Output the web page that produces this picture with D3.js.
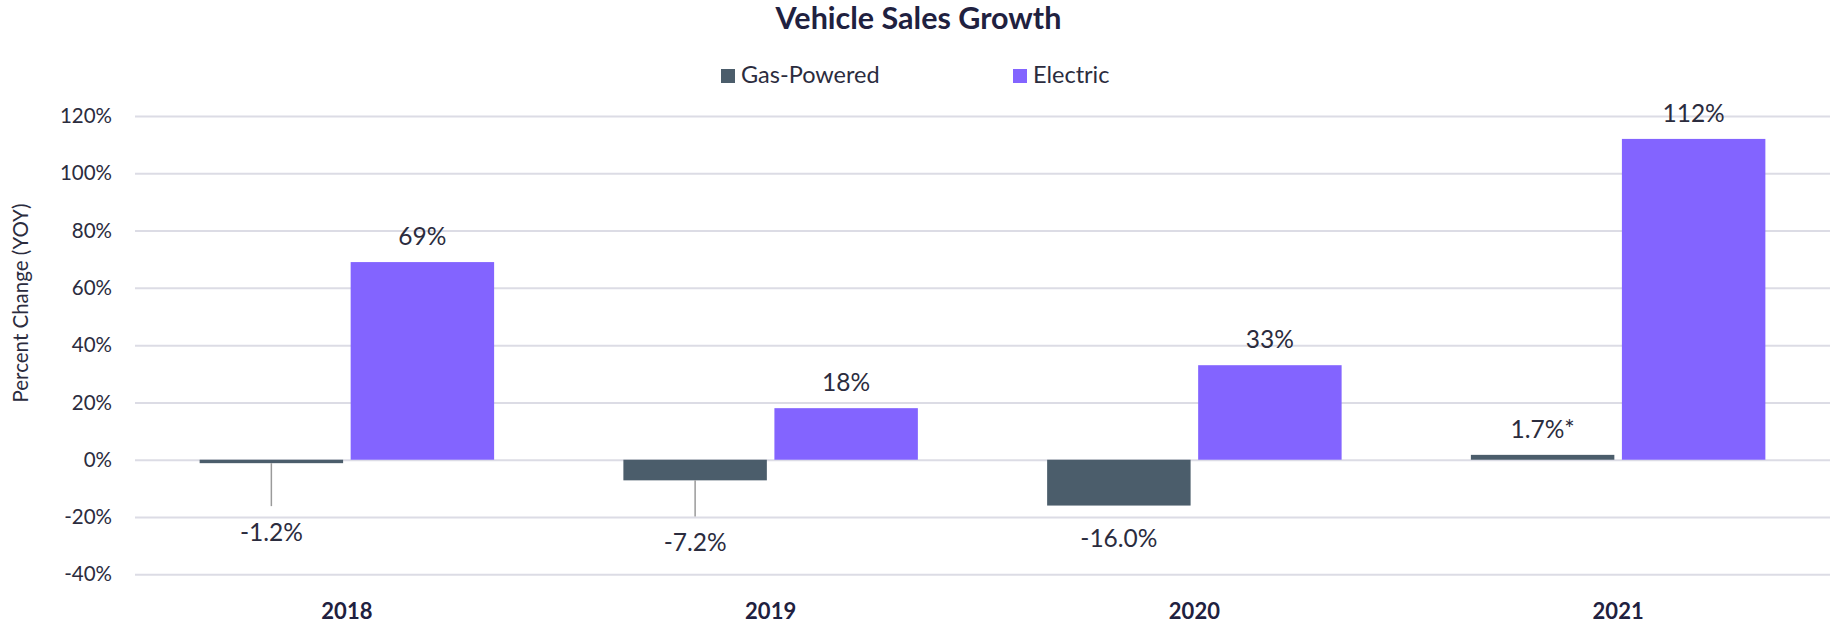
<!DOCTYPE html>
<html>
<head>
<meta charset="utf-8">
<script src="https://cdn.jsdelivr.net/npm/d3@7"></script>
<style>
  body { margin: 0; background: #fff; }
  svg { display: block; font-family: Lato, 'Open Sans', sans-serif; }
  .tick-text { font-size: 20.5px; fill: #2b2c3e; }
  .value-text { font-size: 24.5px; fill: #2b2c3e; }
</style>
</head>
<body>
<svg id="chart" width="1837" height="624"></svg>
<script>
const years = ['2018', '2019', '2020', '2021'];
const seriesNames = ['Gas-Powered', 'Electric'];
const gasValues = [-1.2, -7.2, -16.0, 1.7];
const electricValues = [69, 18, 33, 112];
const gasLabels = ['-1.2%', '-7.2%', '-16.0%', '1.7%*'];
const electricLabels = ['69%', '18%', '33%', '112%'];
const yTicks = [-40, -20, 0, 20, 40, 60, 80, 100, 120];

const colors = { 'Gas-Powered': '#4b5d6b', Electric: '#8364ff' };
const dim = { width: 1837, height: 624, left: 135, right: 1830, top: 116, bottom: 574.3 };

const svg = d3.select('#chart');

const x0 = d3.scaleBand().domain(years).range([dim.left, dim.right]).padding(0);
const x1 = d3.scaleBand().domain(seriesNames).range([0, x0.bandwidth()])
  .paddingInner(0.05)
  .paddingOuter(0.428);
const y = d3.scaleLinear().domain([-40, 120]).range([dim.bottom, dim.top]);

// grid + y ticks
const yAxis = svg.append('g')
  .attr('transform', `translate(${dim.left},0)`)
  .call(d3.axisLeft(y)
    .tickValues(yTicks)
    .tickSize(-(dim.right - dim.left))
    .tickPadding(23)
    .tickFormat((d) => `${d}%`));
yAxis.select('.domain').remove();
yAxis.selectAll('.tick line').style('stroke', '#dcdce5').style('stroke-width', 2);
yAxis.selectAll('.tick text')
  .attr('class', 'tick-text')
  .style('font-family', 'Lato, sans-serif');

// x labels
const xAxis = svg.append('g')
  .attr('transform', 'translate(0,619)')
  .call(d3.axisBottom(x0).tickSize(0));
xAxis.select('.domain').remove();
xAxis.selectAll('.tick text')
  .attr('y', 0)
  .attr('dy', 0)
  .style('font-family', 'Lato, sans-serif')
  .style('font-size', '22px')
  .style('font-weight', 700)
  .style('fill', '#1f2140');

// bars
const rows = years.map((yr, i) => ({
  year: yr,
  values: [
    { key: 'Gas-Powered', v: gasValues[i], label: gasLabels[i] },
    { key: 'Electric', v: electricValues[i], label: electricLabels[i] },
  ],
}));

const groups = svg.append('g')
  .selectAll('g')
  .data(rows)
  .enter()
  .append('g')
  .attr('transform', (d) => `translate(${x0(d.year)},0)`);

groups.selectAll('rect')
  .data((d) => d.values)
  .enter()
  .append('rect')
  .attr('x', (d) => x1(d.key))
  .attr('width', x1.bandwidth())
  .attr('y', (d) => y(Math.max(0, d.v)))
  .attr('height', (d) => Math.abs(y(d.v) - y(0)))
  .style('fill', (d) => colors[d.key]);

// labels for positive values sit just above the bar
groups.selectAll('text.value-text')
  .data((d) => d.values.filter((v) => v.v > 0))
  .enter()
  .append('text')
  .attr('class', 'value-text')
  .attr('text-anchor', 'middle')
  .attr('x', (d) => x1(d.key) + x1.bandwidth() / 2)
  .attr('y', (d) => y(d.v) - 17)
  .text((d) => d.label);

// negative gas labels hang below the axis, some with a leader line
const labelAt = [-28.4, -31.7, -30.5];
const leaderTo = [-16.2, -19.8, null];
gasValues.forEach((v, i) => {
  if (v >= 0) return;
  const cx = x0(years[i]) + x1('Gas-Powered') + x1.bandwidth() / 2;
  if (leaderTo[i] !== null) {
    svg.append('line')
      .attr('x1', cx).attr('x2', cx)
      .attr('y1', y(v))
      .attr('y2', y(leaderTo[i]))
      .style('stroke', '#9a9a9a')
      .style('stroke-width', 1.5);
  }
  svg.append('text')
    .attr('class', 'value-text')
    .attr('text-anchor', 'middle')
    .attr('x', cx)
    .attr('y', y(labelAt[i]))
    .text(gasLabels[i]);
});

// y axis title
svg.append('text')
  .attr('transform', 'translate(28,303) rotate(-90)')
  .attr('text-anchor', 'middle')
  .style('font-size', '20.5px')
  .style('fill', '#2b2c3e')
  .text('Percent Change (YOY)');

// title
svg.append('text')
  .attr('x', dim.width / 2)
  .attr('y', 29)
  .attr('text-anchor', 'middle')
  .style('font-size', '30.5px')
  .style('font-weight', 700)
  .style('fill', '#1f2140')
  .text('Vehicle Sales Growth');

// legend
const legend = svg.append('g').attr('transform', 'translate(721,69)');
const items = legend.selectAll('g')
  .data(seriesNames)
  .enter()
  .append('g')
  .attr('transform', (_d, i) => `translate(${i * 292},0)`);
items.append('rect')
  .attr('width', 14)
  .attr('height', 14)
  .style('fill', (d) => colors[d]);
items.append('text')
  .attr('x', 20)
  .attr('y', 14.3)
  .style('font-size', '23.5px')
  .style('fill', '#2b2c3e')
  .text((d) => d);
</script>
</body>
</html>
